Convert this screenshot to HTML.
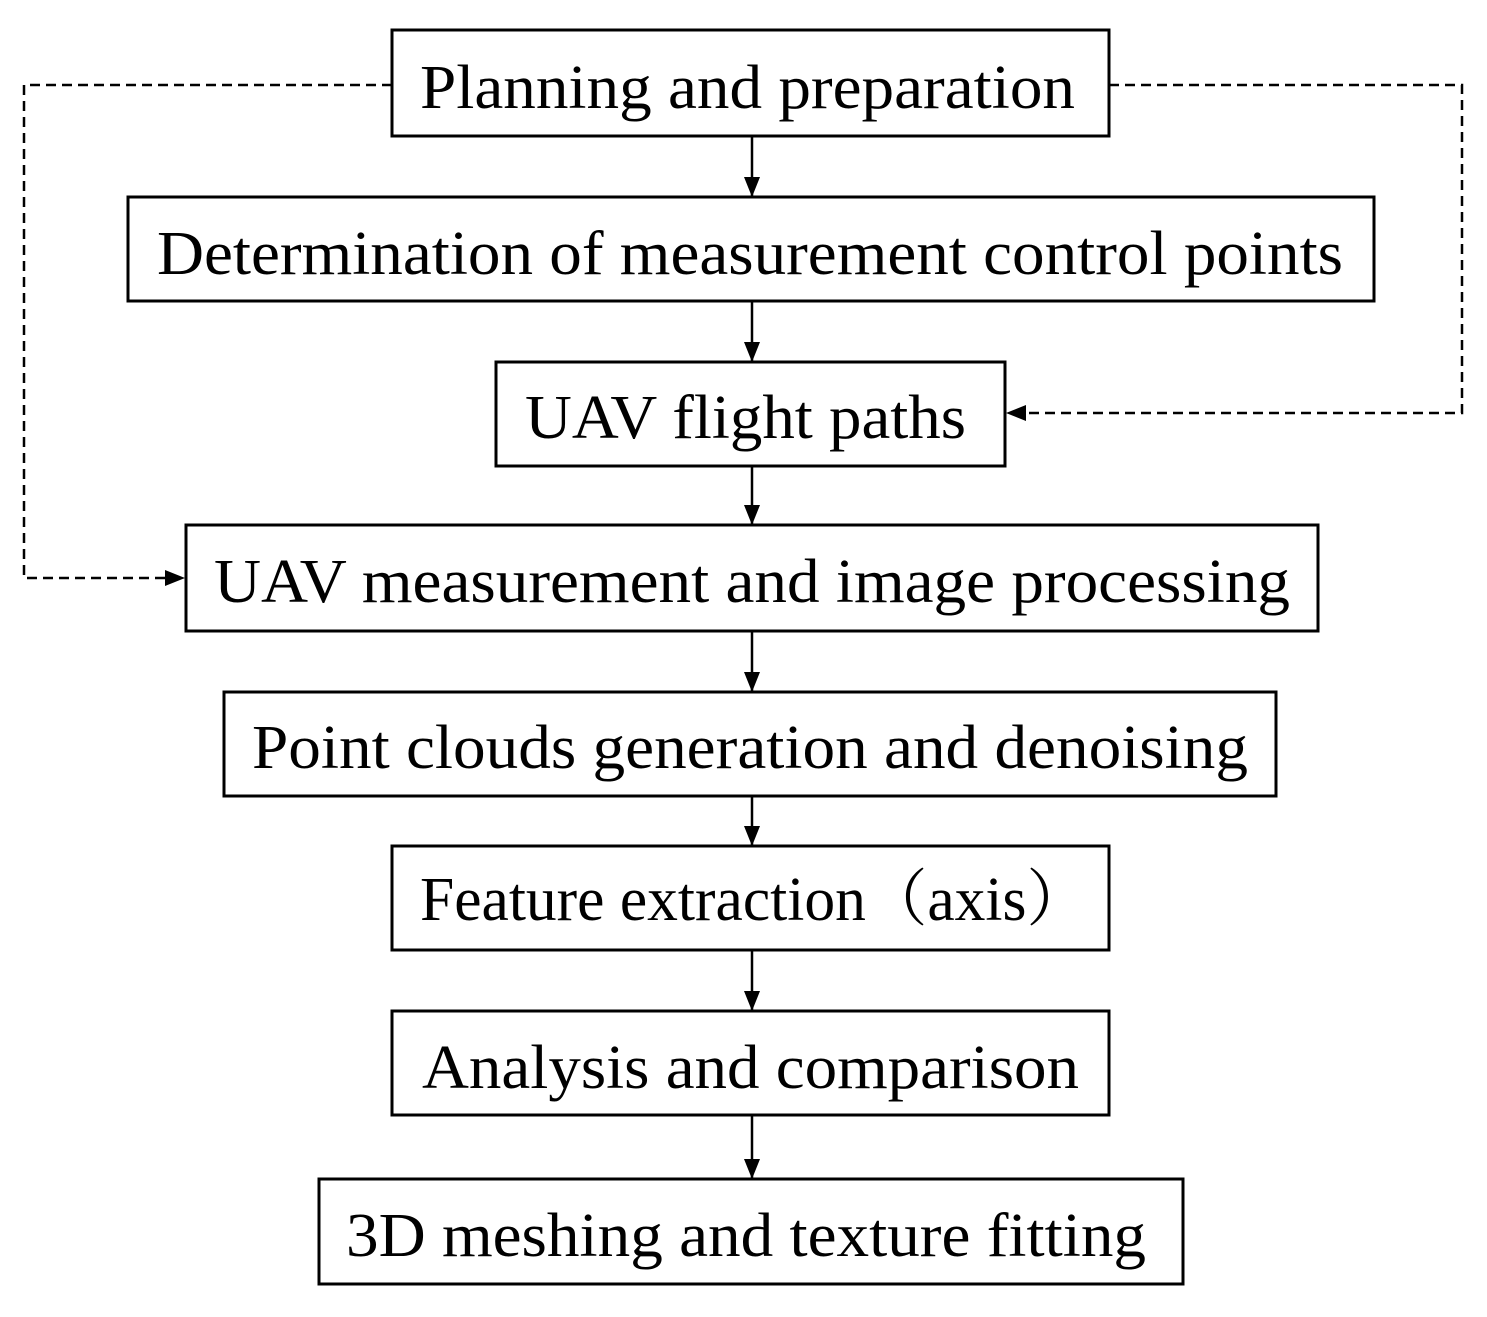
<!DOCTYPE html>
<html><head><meta charset="utf-8"><style>
html,body{margin:0;padding:0;background:#fff;}
svg{display:block;}
text{font-family:"Liberation Serif","Noto Serif CJK SC",serif;font-size:62px;fill:#000;}
</style></head><body>
<svg width="1487" height="1317" viewBox="0 0 1487 1317" xmlns="http://www.w3.org/2000/svg">
<defs>
<marker id="b" markerWidth="20" markerHeight="20" refX="19" refY="10" orient="auto" markerUnits="userSpaceOnUse" viewBox="0 0 20 20">
<path d="M0,2 L20,10 L0,18 Z" fill="#000"/></marker>
</defs>
<g fill="none" stroke="#000" stroke-width="3">
<rect x="392" y="30" width="717" height="106"/>
<rect x="128" y="197" width="1246" height="104"/>
<rect x="496" y="362" width="509" height="104"/>
<rect x="186" y="525" width="1132" height="106"/>
<rect x="224" y="692" width="1052" height="104"/>
<rect x="392" y="846" width="717" height="104"/>
<rect x="392" y="1011" width="717" height="104"/>
<rect x="319" y="1179" width="864" height="105"/>
</g>
<g stroke="#000" stroke-width="2.5">
<line x1="752" y1="136" x2="752" y2="196" marker-end="url(#b)"/>
<line x1="752" y1="301" x2="752" y2="361" marker-end="url(#b)"/>
<line x1="752" y1="466" x2="752" y2="524" marker-end="url(#b)"/>
<line x1="752" y1="631" x2="752" y2="691" marker-end="url(#b)"/>
<line x1="752" y1="796" x2="752" y2="845" marker-end="url(#b)"/>
<line x1="752" y1="950" x2="752" y2="1010" marker-end="url(#b)"/>
<line x1="752" y1="1115" x2="752" y2="1178" marker-end="url(#b)"/>
</g>
<g fill="none" stroke="#000" stroke-width="2.5" stroke-dasharray="10,6">
<polyline points="392,85 24,85 24,578 184,578" marker-end="url(#b)"/>
<polyline points="1109,85 1462,85 1462,413 1007,413" marker-end="url(#b)"/>
</g>
<g lengthAdjust="spacingAndGlyphs">
<text x="420" y="108" textLength="655" lengthAdjust="spacingAndGlyphs">Planning and preparation</text>
<text x="157" y="274" textLength="1186" lengthAdjust="spacingAndGlyphs">Determination of measurement control points</text>
<text x="525" y="438" textLength="441" lengthAdjust="spacingAndGlyphs">UAV flight paths</text>
<text x="214" y="602" textLength="1076" lengthAdjust="spacingAndGlyphs">UAV measurement and image processing</text>
<text x="252" y="768" textLength="996" lengthAdjust="spacingAndGlyphs">Point clouds generation and denoising</text>
<text x="420" y="920" textLength="668" lengthAdjust="spacingAndGlyphs">Feature extraction（axis）</text>
<text x="422" y="1088" textLength="657" lengthAdjust="spacingAndGlyphs">Analysis and comparison</text>
<text x="346" y="1256" textLength="800" lengthAdjust="spacingAndGlyphs">3D meshing and texture fitting</text>
</g>
</svg>
</body></html>
